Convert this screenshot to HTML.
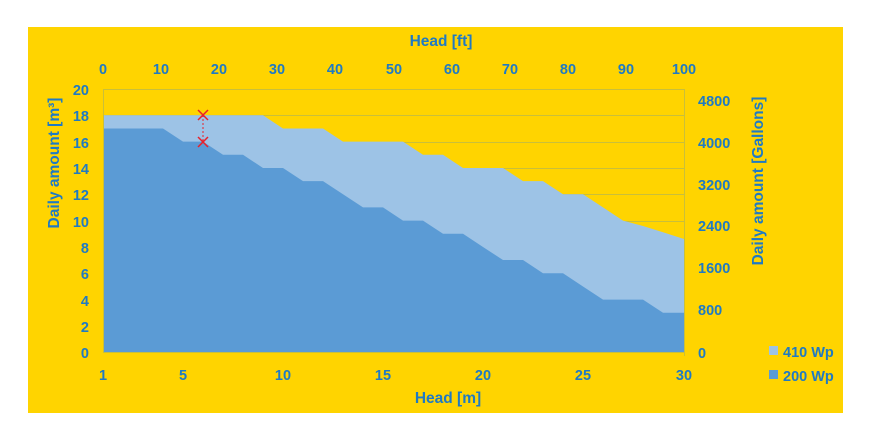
<!DOCTYPE html>
<html><head><style>body{margin:0;background:#fff}svg{display:block}text{font-family:"Liberation Sans",sans-serif;font-weight:bold;fill:#1f7ac4}</style></head><body>
<svg width="872" height="433" viewBox="0 0 872 433">
<rect x="28" y="27" width="815" height="386" fill="#ffd400"/>
<g stroke="#c9bf3a" stroke-width="1">
<line x1="103" y1="89.5" x2="684" y2="89.5"/>
<line x1="103" y1="115.5" x2="684" y2="115.5"/>
<line x1="103" y1="142.5" x2="684" y2="142.5"/>
<line x1="103" y1="168.5" x2="684" y2="168.5"/>
<line x1="103" y1="194.5" x2="684" y2="194.5"/>
<line x1="103" y1="221.5" x2="684" y2="221.5"/>
</g>
<polygon fill="#9dc3e6" points="103,352 103,115.3 263,115.3 283,128.5 323,128.5 343,141.6 403,141.6 423,154.8 443,154.8 463,168 503,168 523,181.1 543,181.1 563,194.3 583,194.3 603,207.4 623,220.6 643,226 663,232.3 684,239 684,352"/>
<polygon fill="#5b9bd5" points="103,352 103,128.5 163,128.5 183,141.6 203,141.6 223,154.8 243,154.8 263,168 283,168 303,181.1 323,181.1 343,194.3 363,207.4 383,207.4 403,220.6 423,220.6 443,233.8 463,233.8 483,247 503,260 523,260 543,273.3 563,273.3 583,286.5 603,299.6 643,299.6 663,312.8 684,312.8 684,352"/>
<g stroke="#c9bf3a"><line x1="103.5" y1="89" x2="103.5" y2="352"/><line x1="684.5" y1="89" x2="684.5" y2="356"/><line x1="103" y1="352.5" x2="684" y2="352.5"/></g>
<line x1="203" y1="115" x2="203" y2="142" stroke="#e8202a" stroke-dasharray="2,2"/>
<g stroke="#e8202a" stroke-width="1.5"><path d="M198,110 l10,10 M208,110 l-10,10"/><path d="M198,137 l10,10 M208,137 l-10,10"/></g>
<g font-size="14.5" text-anchor="middle">
<text x="103" y="74">0</text><text x="161" y="74">10</text><text x="219" y="74">20</text><text x="277" y="74">30</text><text x="335" y="74">40</text><text x="394" y="74">50</text><text x="452" y="74">60</text><text x="510" y="74">70</text><text x="568" y="74">80</text><text x="626" y="74">90</text><text x="684" y="74">100</text>
<text x="103" y="380">1</text><text x="183" y="380">5</text><text x="283" y="380">10</text><text x="383" y="380">15</text><text x="483" y="380">20</text><text x="583" y="380">25</text><text x="684" y="380">30</text>
</g>
<g font-size="14.5" text-anchor="end">
<text x="89" y="95">20</text><text x="89" y="121">18</text><text x="89" y="148">16</text><text x="89" y="174">14</text><text x="89" y="200">12</text><text x="89" y="227">10</text><text x="89" y="253">8</text><text x="89" y="279">6</text><text x="89" y="306">4</text><text x="89" y="332">2</text><text x="89" y="358">0</text>
</g>
<g font-size="14.5">
<text x="698" y="106">4800</text><text x="698" y="148">4000</text><text x="698" y="190">3200</text><text x="698" y="231">2400</text><text x="698" y="273">1600</text><text x="698" y="315">800</text><text x="698" y="358">0</text>
</g>
<text x="441" y="46" font-size="15.5" text-anchor="middle">Head [ft]</text>
<text x="448" y="403" font-size="15.5" text-anchor="middle">Head [m]</text>
<text transform="translate(59,163) rotate(-90)" font-size="15.5" text-anchor="middle">Daily amount [m³]</text>
<text transform="translate(763,181) rotate(-90)" font-size="15.5" text-anchor="middle">Daily amount [Gallons]</text>
<rect x="769" y="346" width="9" height="9" fill="#9dc3e6"/><text x="783" y="357" font-size="14.5">410 Wp</text>
<rect x="769" y="370" width="9" height="9" fill="#5b9bd5"/><text x="783" y="381" font-size="14.5">200 Wp</text>
</svg>
</body></html>
